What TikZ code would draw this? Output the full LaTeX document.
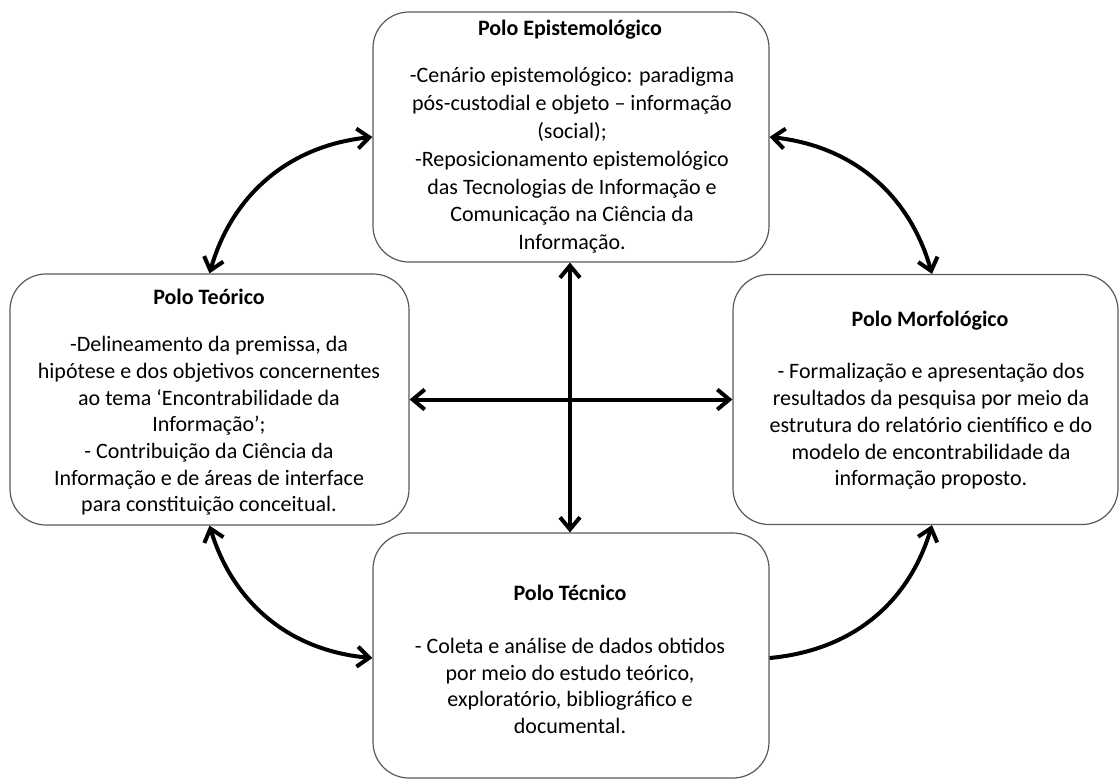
\documentclass[tikz,border=0pt]{standalone}
\usepackage{fontspec}
\setmainfont{Carlito}
\usetikzlibrary{arrows.meta}

\tikzset{
  polebox/.style={draw=black!65, line width=1.2pt, rounded corners=36pt, inner sep=0pt},
  poletitle/.style={font=\fontsize{22}{27}\selectfont\bfseries, inner sep=0pt},
  polebody/.style={font=\fontsize{22}{26.7}\selectfont, align=center, inner sep=0pt},
  link/.style={line width=4pt, black,
    arrows={Straight Barb[length=12pt, width=20pt, line width=4pt]-Straight Barb[length=12pt, width=20pt, line width=4pt]}},
  onelink/.style={line width=4pt, black,
    arrows={-Straight Barb[length=12pt, width=20pt, line width=4pt]}}
}

\begin{document}
\begin{tikzpicture}[x=1pt, y=-1pt]
  \useasboundingbox (0,0) rectangle (1119,780);

  % the four poles
  \node[polebox, minimum width=396pt, minimum height=250pt] (epi) at (571,137) {};
  \node[polebox, minimum width=399pt, minimum height=251pt] (teo) at (209.5,399.5) {};
  \node[polebox, minimum width=385pt, minimum height=250pt] (mor) at (925.5,399.5) {};
  \node[polebox, minimum width=396pt, minimum height=245pt] (tec) at (571,655.5) {};

  % titles
  \node[poletitle] (epiT) at (570,30) {Polo Epistemológico};
  \node[poletitle] (teoT) at (209,297) {Polo Teórico};
  \node[poletitle] (morT) at (930,321) {Polo Morfológico};
  \node[poletitle] (tecT) at (570,593) {Polo Técnico};

  % descriptions
  \node[polebody, font=\fontsize{22}{27.8}\selectfont] (epiB) at (572,160.5) {-Cenário epistemológico: paradigma\\
    pós-custodial e objeto – informação\\
    (social);\\
    -Reposicionamento epistemológico\\
    das Tecnologias de Informação e\\
    Comunicação na Ciência da\\
    Informação.};
  \node[polebody] (teoB) at (209,426) {-Delineamento da premissa, da\\
    hipótese e dos objetivos concernentes\\
    ao tema ‘Encontrabilidade da\\
    Informação’;\\
    - Contribuição da Ciência da\\
    Informação e de áreas de interface\\
    para constituição conceitual.};
  \node[polebody] (morB) at (931,426.5) {- Formalização e apresentação dos\\
    resultados da pesquisa por meio da\\
    estrutura do relatório científico e do\\
    modelo de encontrabilidade da\\
    informação proposto.};
  \node[polebody] (tecB) at (570,686) {- Coleta e análise de dados obtidos\\
    por meio do estudo teórico,\\
    exploratório, bibliográfico e\\
    documental.};

  % central cross
  \draw[link] ([xshift=-1pt]epi.south) -- ([xshift=-1pt]tec.north);
  \draw[link] (teo.east) -- (mor.west);

  % curved links around the cross
  \draw[link] (teo.north) to[bend left=34] (epi.west);
  \draw[link] (epi.east) to[bend left=34] ([xshift=6.5pt]mor.north);
  \draw[link] (teo.south) to[bend right=34] ([yshift=-2.5pt]tec.west);
  \draw[onelink] ([yshift=-2.5pt]tec.east) to[bend right=34] ([xshift=6.5pt]mor.south);
\end{tikzpicture}
\end{document}
